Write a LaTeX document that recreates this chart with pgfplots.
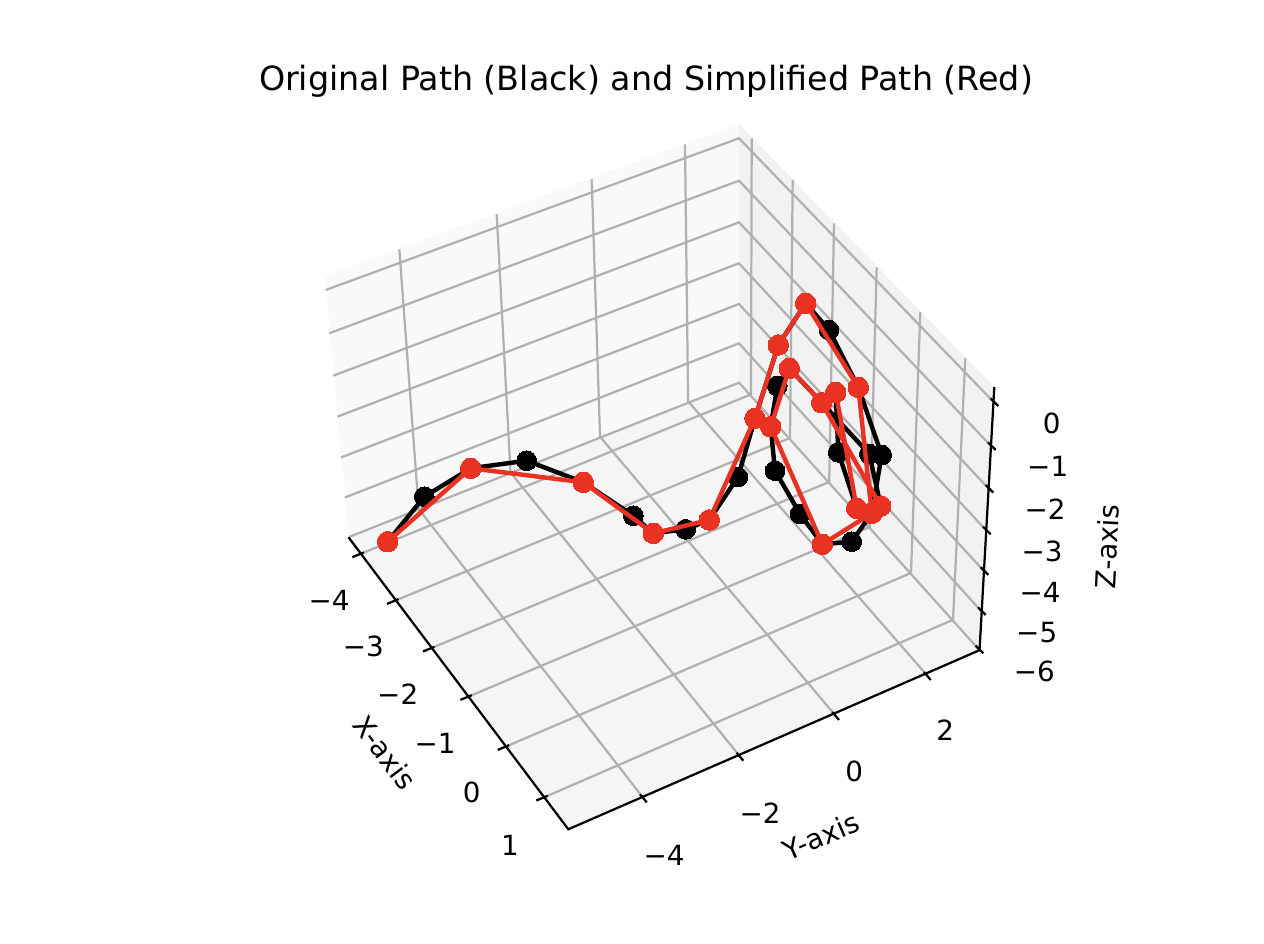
\documentclass[border=0pt]{standalone}
\usepackage{fontspec}
\setmainfont{DejaVu Sans}
\usepackage{pgfplots}
\pgfplotsset{compat=1.18}
\definecolor{gridc}{RGB}{176,176,176}
\definecolor{wallL}{gray}{0.975}
\definecolor{wallR}{gray}{0.95}
\definecolor{floorc}{gray}{0.9625}
\definecolor{redpath}{RGB}{234,50,35}
\newcommand{\tfont}{\fontsize{10bp}{12bp}\selectfont}
\tikzset{
    gridl/.style={color=gridc, line width=0.8bp},
    axl/.style={color=black, line width=0.8bp},
    lab/.style={inner sep=0pt, anchor=center, font=\tfont},
}
\begin{document}
\begin{tikzpicture}
% the 3D view is a perspective one, so everything is given in projected coordinates of the picture
\begin{axis}[
    scale only axis,
    width=455.04bp, height=339.84bp,
    xmin=0, xmax=1264,
    ymin=0, ymax=944,
    y dir=reverse,
    hide axis,
    clip=false,
    clip mode=individual,
    unbounded coords=jump,
]
% page
\addplot[draw=none, fill=white, forget plot] coordinates {(0,0)(1264,0)(1264,944)(0,944)} --cycle;
% panes
\addplot[draw=none, fill=wallL, forget plot] coordinates {(325,276)(739,124)(739,382)(349,537)} --cycle;
\addplot[draw=none, fill=wallR, forget plot] coordinates {(739,124)(994,387)(980,650)(739,382)} --cycle;
\addplot[draw=none, fill=floorc, forget plot] coordinates {(349,537)(568,829)(980,650)(739,382)} --cycle;

% z grid: left wall, back edge, right wall
\addplot[gridl, forget plot] coordinates {
    (325.7,290)(739,138.3)(994.3,402.7)(nan,nan)
    (329.3,333.3)(739,180.7)(991.7,446.7)(nan,nan)
    (333.3,375.7)(739,222.3)(989.3,489.3)(nan,nan)
    (337.3,416.7)(739,263.3)(986.7,531)(nan,nan)
    (341,457.5)(739,304)(984.3,571.5)(nan,nan)
    (345,497.5)(739,343.3)(981.7,611.7)(nan,nan)
    (349,537)(739,382.7)(979.3,650)
};
% x grid: floor, then up the right wall
\addplot[gridl, forget plot] coordinates {
    (360.3,554)(751,394.4)(751.7,138.3)(nan,nan)
    (395,600.7)(790,438)(792.7,180)(nan,nan)
    (431,648.3)(829.2,482)(834,223.3)(nan,nan)
    (468.3,696.7)(869.7,527)(876.7,267.3)(nan,nan)
    (505.7,746.7)(911,573)(920.3,312)(nan,nan)
    (544.3,797.3)(953,619.8)(965.3,358.3)
};
% y grid: floor, then up the left wall
\addplot[gridl, forget plot] coordinates {
    (642.7,797.3)(418.7,509.1)(399.3,249.3)(nan,nan)
    (739.3,755.7)(510.5,472.4)(496.7,214.3)(nan,nan)
    (835,715)(600,436.6)(591.7,179.3)(nan,nan)
    (926.7,675)(688.1,401.4)(685,144.3)
};

% axis lines
\addplot[axl, forget plot] coordinates {(348.5,537.3)(568.3,829.3)(980,650)};
\addplot[axl, forget plot] coordinates {(994.3,387)(979.5,650.5)};
% ticks
\addplot[axl, forget plot] coordinates {
    (352.3,557.2)(363.8,552.5)(nan,nan)
    (387,603.9)(398.5,599.2)(nan,nan)
    (423,651.5)(434.5,646.8)(nan,nan)
    (460.3,699.9)(471.8,695.2)(nan,nan)
    (497.7,749.9)(509.2,745.2)(nan,nan)
    (536.3,800.5)(547.8,795.8)
};
\addplot[axl, forget plot] coordinates {
    (640,794.3)(646.7,802.3)(nan,nan)
    (736.6,752.7)(743.3,760.7)(nan,nan)
    (832.3,712)(839,720)(nan,nan)
    (924,672)(930.7,680)
};
\addplot[axl, forget plot] coordinates {
    (990.6,398.4)(998.3,406)(nan,nan)
    (988,442.4)(995.7,450)(nan,nan)
    (985.6,485)(993.3,492.6)(nan,nan)
    (983,526.7)(990.7,534.3)(nan,nan)
    (980.6,567.2)(988.3,574.8)(nan,nan)
    (978,607.4)(985.7,615)(nan,nan)
    (975.6,645.7)(983.3,653.3)
};

% original path
\addplot[color=black, line width=1.6bp, mark=*, mark size=3.55bp, mark options={line width=0pt, fill=black}, forget plot] coordinates {
    (387.7,541.7)(424.3,496.7)(470.7,468.3)(526.7,460.7)(583.3,482.3)(633.3,515.7)
    (653.3,533.3)(685.7,529.3)(709.3,520)(738,477)(755,418.3)(778.3,345)
    (805.7,303.3)(829,330)(858.3,387.3)(881.7,455)(871.7,513.3)(851.7,541.7)
    (822.3,544.3)(800,514)(775,470.7)(770.7,426.7)(777.3,386)(789.3,368.3)
    (821.7,402.7)(869.3,454)(880.7,506)(856.7,508.3)(838.3,452.3)(835.7,392.3)
};
% simplified path
\addplot[color=redpath, line width=1.6bp, mark=*, mark size=3.7bp, mark options={line width=0pt, fill=redpath}, forget plot] coordinates {
    (387.7,541.7)(470.7,468.3)(583.3,482.3)(653.3,533.3)(709.3,520)(755,418.3)
    (778.3,345)(805.7,303.3)(858.3,387.3)(871.7,513.3)(822.3,544.3)(770.7,426.7)
    (789.3,368.3)(821.7,402.7)(880.7,506)(856.7,508.3)(835.7,392.3)
};

% title
\node[inner sep=0pt, anchor=center, font=\fontsize{12bp}{14bp}\selectfont] at (axis cs:646,81.5) {Original Path (Black) and Simplified Path (Red)};
% x tick labels
\node[lab] at (axis cs:329,600) {−4};
\node[lab] at (axis cs:363.3,646.7) {−3};
\node[lab] at (axis cs:397.7,694) {−2};
\node[lab] at (axis cs:435,743.3) {−1};
\node[lab] at (axis cs:471.7,792.7) {0};
\node[lab] at (axis cs:510,845) {1};
% y tick labels
\node[lab] at (axis cs:664,855) {−4};
\node[lab] at (axis cs:760,813.3) {−2};
\node[lab] at (axis cs:854.3,771.7) {0};
\node[lab] at (axis cs:945.3,730.7) {2};
% z tick labels
\node[lab] at (axis cs:1051.7,423.3) {0};
\node[lab] at (axis cs:1047.7,466) {−1};
\node[lab] at (axis cs:1045,509.3) {−2};
\node[lab] at (axis cs:1042,551.7) {−3};
\node[lab] at (axis cs:1040,592.3) {−4};
\node[lab] at (axis cs:1036.7,632.3) {−5};
\node[lab] at (axis cs:1034.3,671) {−6};
% axis labels
\node[lab, rotate=-53] at (axis cs:385,752.5) {X-axis};
\node[lab, rotate=23.5] at (axis cs:821,836) {Y-axis};
\node[lab, rotate=87] at (axis cs:1107,546.7) {Z-axis};
\end{axis}
\end{tikzpicture}
\end{document}
